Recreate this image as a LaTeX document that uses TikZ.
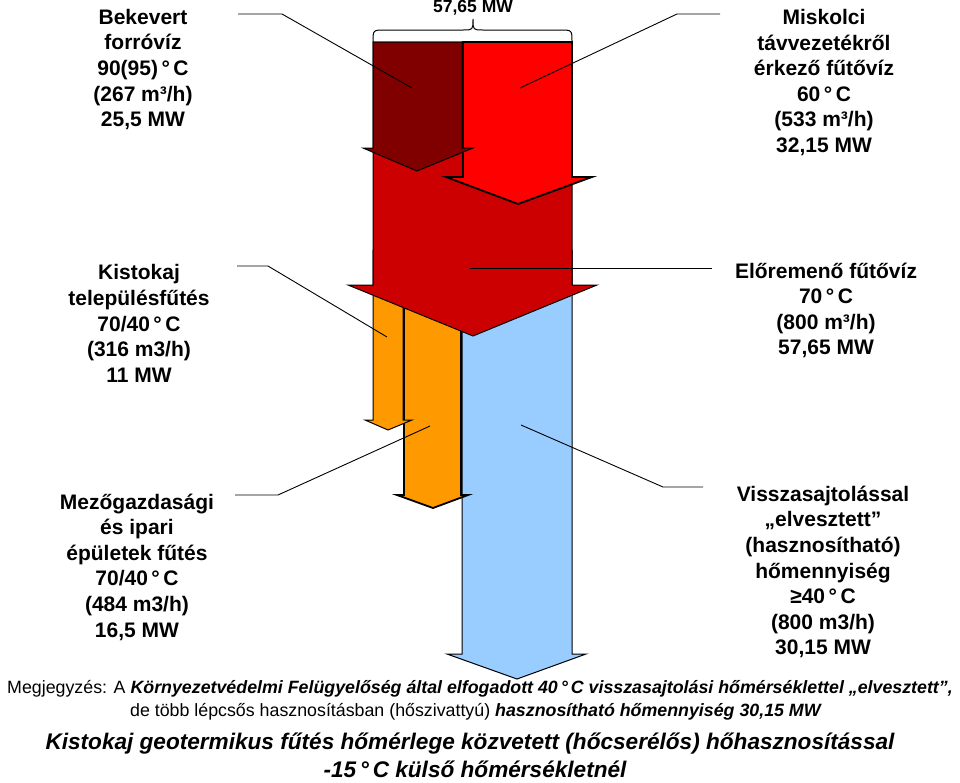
\documentclass[tikz,border=0pt]{standalone}
\usepackage{fontspec}
\setmainfont{Liberation Sans}
\definecolor{cDark}{RGB}{128,0,0}
\definecolor{cRed}{RGB}{255,0,0}
\definecolor{cMid}{RGB}{204,0,0}
\definecolor{cOrange}{RGB}{255,153,0}
\definecolor{cBlue}{RGB}{153,204,255}
\begin{document}
\begin{tikzpicture}[x=1pt,y=-1pt,
  blockarrow/.style={draw=black, line width=1pt, line join=miter},
  thickarrow/.style={blockarrow, line width=1.8pt},
  callout/.style={draw=black, line width=0.9pt},
  lbl/.style={align=center, inner sep=0pt, font=\fontsize{21}{25.6}\selectfont\bfseries},
  notefont/.style={inner sep=0pt, font=\fontsize{17.8}{21}\selectfont},
  titlefont/.style={inner sep=0pt, font=\fontsize{22.6}{27}\selectfont\bfseries\itshape}]
\useasboundingbox[fill=white] (0,0) rectangle (960,782);

% block arrows (back to front)
\path[blockarrow, fill=cBlue] (462,250) -- (572,250) -- (572,654) -- (586,654) -- (517,679) -- (447,654) -- (462,654) -- cycle;
\path[thickarrow, fill=cOrange] (404,250) -- (461,250) -- (461,495) -- (468,495) -- (433,508) -- (397,495) -- (404,495) -- cycle;
\path[blockarrow, fill=cOrange] (373,250) -- (403,250) -- (403,420) -- (412,420) -- (388,430) -- (365,420) -- (373,420) -- cycle;
\path[blockarrow, fill=cMid] (373,42) -- (572,42) -- (572,285) -- (597,285) -- (473,336) -- (348,285) -- (373,285) -- cycle;
\path[thickarrow, fill=cRed] (463,42) -- (572,42) -- (572,177) -- (592,177) -- (518,204) -- (446,177) -- (463,177) -- cycle;
\path[blockarrow, fill=cDark] (373,42) -- (462,42) -- (462,148) -- (473,148) -- (417,171) -- (363,148) -- (373,148) -- cycle;

% brace
\draw[line width=1pt] (373,42) .. controls (373,30) .. (385,30) -- (463,30) .. controls (473,30) .. (473,19) .. controls (473,30) .. (483,30) -- (560,30) .. controls (572,30) .. (572,42);
\node[inner sep=0pt, font=\fontsize{17.5}{20}\selectfont\bfseries] (total) at (473,8) {57,65 MW};

% text labels
\node[lbl] (tBek) at (143,69.5) {Bekevert\\forróvíz\\90(95)\,°\,C\\(267 m³/h)\\25,5 MW};
\node[lbl] (tMis) at (824,82.5) {Miskolci\\távvezetékről\\érkező fűtővíz\\60\,°\,C\\(533 m³/h)\\32,15 MW};
\node[lbl] (tKis) at (139,323.5) {Kistokaj\\településfűtés\\70/40\,°\,C\\(316 m3/h)\\11 MW};
\node[lbl] (tElo) at (826,310.5) {Előremenő fűtővíz\\70\,°\,C\\(800 m³/h)\\57,65 MW};
\node[lbl] (tMez) at (137,567) {Mezőgazdasági\\és ipari\\épületek fűtés\\70/40\,°\,C\\(484 m3/h)\\16,5 MW};
\node[lbl] (tVis) at (823,572) {Visszasajtolással\\„elvesztett”\\(hasznosítható)\\hőmennyiség\\≥40\,°\,C\\(800 m3/h)\\30,15 MW};

% callout coordinates
\coordinate (kDk0) at (238,14); \coordinate (kDk1) at (282,14); \coordinate (kDk2) at (412,88);
\coordinate (kRd0) at (720,14); \coordinate (kRd1) at (677,14); \coordinate (kRd2) at (520,88);
\coordinate (kMd0) at (470,268); \coordinate (kMd1) at (712,268);
\coordinate (kO10) at (237,266); \coordinate (kO11) at (268,266); \coordinate (kO12) at (387,337);
\coordinate (kO20) at (235,495); \coordinate (kO21) at (278,495); \coordinate (kO22) at (430,426);
\coordinate (kBl0) at (521,425); \coordinate (kBl1) at (663,487); \coordinate (kBl2) at (703,487);

\draw[callout] (kDk0) -- (kDk1) -- (kDk2);
\draw[callout] (kRd0) -- (kRd1) -- (kRd2);
\draw[callout] (kMd0) -- (kMd1);
\draw[callout] (kO10) -- (kO11) -- (kO12);
\draw[callout] (kO20) -- (kO21) -- (kO22);
\draw[callout] (kBl0) -- (kBl1) -- (kBl2);

% notes and title
\node[notefont] (note1) at (480,689) {Megjegyzés: A \textbf{\textit{Környezetvédelmi Felügyelőség által elfogadott 40\,°\,C visszasajtolási hőmérséklettel „elvesztett”,}}};
\node[notefont] (note2) at (476,712) {de több lépcsős hasznosításban (hőszivattyú) \textbf{\textit{hasznosítható hőmennyiség 30,15 MW}}};
\node[titlefont] (title1) at (470,744) {Kistokaj geotermikus fűtés hőmérlege közvetett (hőcserélős) hőhasznosítással};
\node[titlefont] (title2) at (475,769) {-15\,°\,C külső hőmérsékletnél};
\end{tikzpicture}
\end{document}
